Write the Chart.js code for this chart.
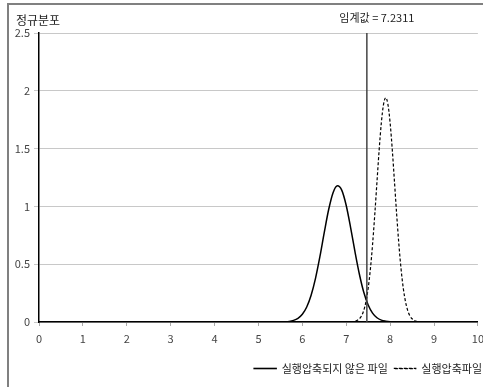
<!DOCTYPE html>
<html>
<head>
<meta charset="utf-8">
<script src="https://cdn.jsdelivr.net/npm/chart.js@4.4.1/dist/chart.umd.min.js"></script>
<style>
  html, body { margin: 0; padding: 0; background: #fff; overflow: hidden; }
  #wrap { position: relative; width: 483px; height: 387px; overflow: hidden; }
</style>
</head>
<body>
<div id="wrap"><canvas id="normalChart" width="490" height="387"></canvas></div>
<script>
/* values */
const xTicks = [0, 1, 2, 3, 4, 5, 6, 7, 8, 9, 10];
const yTicks = [0, 0.5, 1, 1.5, 2, 2.5];

const plainX = [0, 5.5, 5.6, 5.7, 5.8, 5.9, 6.0, 6.1, 6.2, 6.3, 6.4, 6.5, 6.6, 6.7, 6.8, 6.9, 7.0, 7.1, 7.2, 7.3, 7.4, 7.5, 7.6, 7.7, 7.8, 7.9, 8.0, 8.1, 8.2, 10];
const plainY = [0, 0.001, 0.002, 0.005, 0.014, 0.032, 0.067, 0.13, 0.232, 0.378, 0.565, 0.775, 0.973, 1.119, 1.179, 1.139, 1.008, 0.817, 0.606, 0.413, 0.257, 0.147, 0.077, 0.037, 0.016, 0.007, 0.002, 0.001, 0, 0];

const packedX = [7.1, 7.2, 7.3, 7.35, 7.4, 7.45, 7.5, 7.55, 7.6, 7.65, 7.7, 7.75, 7.8, 7.85, 7.9, 7.95, 8.0, 8.05, 8.1, 8.15, 8.2, 8.25, 8.3, 8.35, 8.4, 8.45, 8.5, 8.6, 8.7];
const packedY = [0, 0.006, 0.028, 0.054, 0.101, 0.177, 0.292, 0.456, 0.67, 0.927, 1.209, 1.487, 1.723, 1.883, 1.94, 1.883, 1.723, 1.487, 1.209, 0.927, 0.67, 0.456, 0.292, 0.177, 0.101, 0.054, 0.028, 0.006, 0];

const seriesNames = ['실행압축되지 않은 파일', '실행압축파일'];
const criticalPos = 7.47;
const criticalText = '임계값 = 7.2311';
const yAxisTitle = '정규분포';

const FONT = "'Noto Sans CJK KR', 'Liberation Sans', sans-serif";

function toPoints(xs, ys) {
  return xs.map((x, i) => ({ x: x, y: ys[i] }));
}

/* frame, y title and critical value line */
const extras = {
  id: 'extras',
  afterLayout(chart) {
    // legend sits flush against the right edge in the original
    chart.legend.left += 10;
    chart.legend.right += 10;
  },
  beforeDraw(chart) {
    const ctx = chart.ctx;
    ctx.save();
    ctx.strokeStyle = '#808080';
    ctx.lineWidth = 2;
    ctx.beginPath();
    ctx.moveTo(8, 400);
    ctx.lineTo(8, 4);
    ctx.lineTo(495, 4);
    ctx.stroke();
    ctx.restore();
  },
  afterDatasetsDraw(chart) {
    const ctx = chart.ctx;
    const xs = chart.scales.x, ys = chart.scales.y;
    const px = xs.getPixelForValue(criticalPos);
    ctx.save();
    ctx.strokeStyle = '#444';
    ctx.lineWidth = 1.5;
    ctx.beginPath();
    ctx.moveTo(px, ys.getPixelForValue(2.5));
    ctx.lineTo(px, ys.getPixelForValue(0));
    ctx.stroke();
    ctx.fillStyle = '#222';
    ctx.textBaseline = 'middle';
    ctx.textAlign = 'center';
    ctx.font = '11px ' + FONT;
    ctx.fillText(criticalText, px + 10, 18);
    ctx.textAlign = 'left';
    ctx.font = '12px ' + FONT;
    ctx.fillText(yAxisTitle, 16, 20);
    ctx.restore();
  }
};

const config = {
  type: 'line',
  data: {
    datasets: [{
      label: seriesNames[0],
      data: toPoints(plainX, plainY),
      borderColor: '#000',
      backgroundColor: '#000',
      borderWidth: 1.5,
      pointRadius: 0,
      cubicInterpolationMode: 'monotone'
    }, {
      label: seriesNames[1],
      data: toPoints(packedX, packedY),
      borderColor: '#000',
      backgroundColor: '#000',
      borderWidth: 1.2,
      borderDash: [3, 2],
      pointRadius: 0,
      cubicInterpolationMode: 'monotone'
    }]
  },
  options: {
    responsive: false,
    animation: false,
    layout: { padding: { top: 33, left: 0, right: 12, bottom: 3 } },
    plugins: {
      tooltip: { enabled: false },
      legend: {
        position: 'bottom',
        align: 'end',
        labels: {
          boxWidth: 22,
          boxHeight: 0.1,
          padding: 6,
          color: '#222',
          font: { family: FONT, size: 11 }
        }
      }
    },
    scales: {
      x: {
        type: 'linear',
        min: 0,
        max: 10,
        afterBuildTicks: s => { s.ticks = xTicks.map(v => ({ value: v })); },
        afterFit: s => { s.height = 35; },
        ticks: { color: '#444', font: { family: FONT, size: 11 }, padding: 6, maxRotation: 0, callback: v => String(v) },
        grid: { drawOnChartArea: false, drawTicks: true, tickLength: 4, color: '#aaa' },
        border: { color: '#000', width: 1.5 }
      },
      y: {
        min: 0,
        max: 2.5,
        afterBuildTicks: s => { s.ticks = yTicks.map(v => ({ value: v })); },
        afterFit: s => { s.width = 39; },
        ticks: { color: '#444', font: { family: FONT, size: 11 }, padding: 4, callback: v => String(v) },
        grid: { color: '#c8c8c8', tickLength: 5, lineWidth: 1 },
        border: { color: '#000', width: 1.5 }
      }
    }
  },
  plugins: [extras]
};

var myChart = new Chart(document.getElementById('normalChart'), config);
</script>
</body>
</html>
